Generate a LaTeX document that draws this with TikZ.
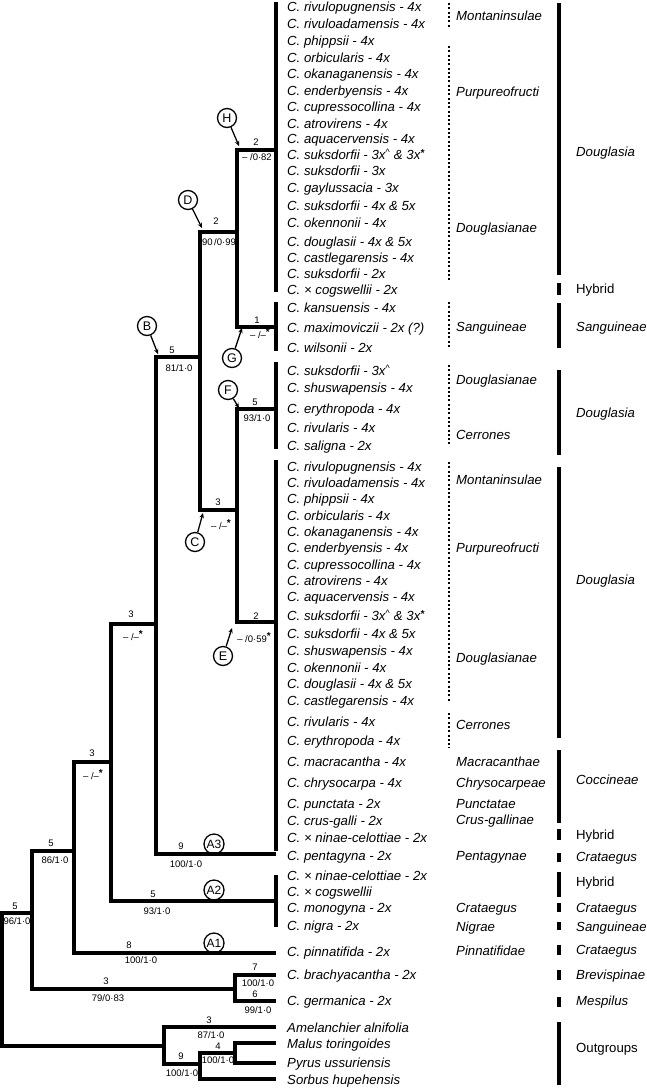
\documentclass[tikz,border=0pt]{standalone}
\usepackage{fontspec}
\setmainfont{Liberation Sans}
\usetikzlibrary{arrows.meta}
\newcommand\mycaret{\textsuperscript{\textasciicircum}}
\newcommand\mystar{\raisebox{3.2pt}{\fontsize{10}{10}\selectfont\bfseries *}}
\begin{document}
\begin{tikzpicture}[x=1pt,y=-1pt,
  br/.style={line width=3.2pt,line join=miter},
  gbar/.style={line width=4pt},
  dbar/.style={line width=1.8pt,dash pattern=on 2pt off 2.3pt},
  sp/.style={anchor=west,inner sep=0pt,text height=9.3pt,text depth=0pt,font=\fontsize{13.2}{13.2}\selectfont\itshape},
  rm/.style={anchor=west,inner sep=0pt,text height=9.3pt,text depth=0pt,font=\fontsize{13.2}{13.2}\selectfont},
  num/.style={inner sep=0pt,text height=6.8pt,text depth=0pt,font=\fontsize{9.5}{9.5}\selectfont},
  circ/.style={draw,circle,line width=1.3pt,minimum size=19pt,inner sep=0pt,font=\fontsize{12.5}{12.5}\selectfont},
  acirc/.style={draw,circle,line width=1.3pt,minimum size=20pt,inner sep=0pt,font=\fontsize{12}{12}\selectfont},
  arr/.style={line width=1.3pt,-{Stealth[length=5pt,width=4.4pt]}}
]
\useasboundingbox (0,0) rectangle (647,1088);

% ---------- tree nodes ----------
\coordinate (Rt) at (2,980);
\coordinate (n32) at (32,913);
\coordinate (n74) at (74,851);
\coordinate (n111) at (111,762);
\coordinate (n156) at (156,624);
\coordinate (nB) at (200,357);
\coordinate (nD) at (237,232);
\coordinate (nC) at (237,510);
\coordinate (nH) at (276,150);
\coordinate (nG) at (276,327);
\coordinate (nF) at (276,409);
\coordinate (nE) at (276,622);
\coordinate (tPen) at (276,854);
\coordinate (nA2) at (276,901);
\coordinate (tPin) at (276,953);
\coordinate (nMes) at (235,989);
\coordinate (tBra) at (276,975);
\coordinate (tGer) at (276,1001);
\coordinate (nOut) at (164,1046);
\coordinate (tAme) at (276,1027);
\coordinate (n200) at (200,1064);
\coordinate (n235) at (235,1053);
\coordinate (tMal) at (276,1043);
\coordinate (tPyr) at (276,1063);
\coordinate (tSor) at (276,1079);

\draw[br] (Rt) |- (n32);  \draw[br] (Rt) |- (nOut);
\draw[br] (n32) |- (n74); \draw[br] (n32) |- (nMes);
\draw[br] (n74) |- (n111); \draw[br] (n74) |- (tPin);
\draw[br] (n111) |- (n156); \draw[br] (n111) |- (nA2);
\draw[br] (n156) |- (nB); \draw[br] (n156) |- (tPen);
\draw[br] (nB) |- (nD); \draw[br] (nB) |- (nC);
\draw[br] (nD) |- (nH); \draw[br] (nD) |- (nG);
\draw[br] (nC) |- (nF); \draw[br] (nC) |- (nE);
\draw[br] (nMes) |- (tBra); \draw[br] (nMes) |- (tGer);
\draw[br] (nOut) |- (tAme); \draw[br] (nOut) |- (n200);
\draw[br] (n200) |- (n235); \draw[br] (n200) |- (tSor);
\draw[br] (n235) |- (tMal); \draw[br] (n235) |- (tPyr);

% tip bars
\draw[br] (276,2) -- (276,292);
\draw[br] (276,302) -- (276,351);
\draw[br] (276,362) -- (276,449);
\draw[br] (276,460) -- (276,851);
\draw[br] (276,875) -- (276,927);

% ---------- branch labels ----------
\node[num] (a1) at (15,906) {5};   \node[num] (b1) at (17,921) {96/1·0};
\node[num] (a2) at (51,843) {5};   \node[num] (b2) at (55,860) {86/1·0};
\node[num] (a3) at (92,753) {3};   \node[num] (b3) at (93,776) {– /–\mystar};
\node[num] (a4) at (131,614) {3};  \node[num] (b4) at (133,637) {– /–\mystar};
\node[num] (a5) at (172,350) {5};  \node[num] (b5) at (179,368) {81/1·0};
\node[num] (a6) at (216,221) {2};  \node[num] (b6) at (219,242) {90\,/0·99};
\node[num] (a7) at (256,142) {2};  \node[num] (b7) at (257,157) {– /0·82};
\node[num] (a8) at (257,320) {1};  \node[num] (b8) at (260,335) {– /–\mystar};
\node[num] (a9) at (218,502) {3};  \node[num] (b9) at (221,526) {– /–\mystar};
\node[num] (a10) at (255,402) {5}; \node[num] (b10) at (257,418) {93/1·0};
\node[num] (a11) at (256,616) {2}; \node[num] (b11) at (254,639) {– /0·59\mystar};
\node[num] (a12) at (181,846) {9}; \node[num] (b12) at (186,864) {100/1·0};
\node[num] (a13) at (153,894) {5}; \node[num] (b13) at (157,911) {93/1·0};
\node[num] (a14) at (129,945) {8}; \node[num] (b14) at (141,960) {100/1·0};
\node[num] (a15) at (106,981) {3}; \node[num] (b15) at (108,998) {79/0·83};
\node[num] (a16) at (255,967) {7}; \node[num] (b16) at (258,983) {100/1·0};
\node[num] (a17) at (255,994) {6}; \node[num] (b17) at (258,1010) {99/1·0};
\node[num] (a18) at (209,1020) {3}; \node[num] (b18) at (211,1035) {87/1·0};
\node[num] (a19) at (218,1046) {4}; \node[num] (b19) at (218,1060) {100/1·0};
\node[num] (a20) at (181,1056) {9}; \node[num] (b20) at (182,1073) {100/1·0};

% ---------- circled clade letters ----------
\node[circ] (H) at (227,118) {H};
\node[circ] (D) at (188,200) {D};
\node[circ] (G) at (232,358) {G};
\node[circ] (B) at (147,326) {B};
\node[circ] (F) at (228,390) {F};
\node[circ] (C) at (195,542) {C};
\node[circ] (E) at (223,656) {E};
\node[acirc] (A3) at (214,844) {A3};
\node[acirc] (A2) at (214,890) {A2};
\node[acirc] (A1) at (214,943) {A1};

\coordinate (pH) at (239,146);
\coordinate (pD) at (202,228);
\coordinate (pG) at (242,328);
\coordinate (pB) at (158,354);
\coordinate (pF) at (239,408);
\coordinate (pC) at (203,513);
\coordinate (pE) at (232,628);
\draw[arr] (H) -- (pH);
\draw[arr] (D) -- (pD);
\draw[arr] (G) -- (pG);
\draw[arr] (B) -- (pB);
\draw[arr] (F) -- (pF);
\draw[arr] (C) -- (pC);
\draw[arr] (E) -- (pE);

% ---------- species ----------
\foreach \yy/\lab [count=\i] in {
7/{C. rivulopugnensis - 4x},
24/{C. rivuloadamensis - 4x},
41/{C. phippsii - 4x},
58/{C. orbicularis - 4x},
74/{C. okanaganensis - 4x},
91/{C. enderbyensis - 4x},
107/{C. cupressocollina - 4x},
124/{C. atrovirens - 4x},
139/{C. aquacervensis - 4x},
155/{C. suksdorfii - 3x\mycaret{} \& 3x\mystar},
171/{C. suksdorfii - 3x},
188/{C. gaylussacia - 3x},
206/{C. suksdorfii - 4x \& 5x},
223/{C. okennonii - 4x},
242/{C. douglasii - 4x \& 5x},
258/{C. castlegarensis - 4x},
274/{C. suksdorfii - 2x},
290/{C. × cogswellii - 2x},
308/{C. kansuensis - 4x},
328/{C. maximoviczii - 2x (?)},
348/{C. wilsonii - 2x},
371/{C. suksdorfii - 3x\mycaret},
388/{C. shuswapensis - 4x},
409/{C. erythropoda - 4x},
428/{C. rivularis - 4x},
446/{C. saligna - 2x},
467/{C. rivulopugnensis - 4x},
483/{C. rivuloadamensis - 4x},
499/{C. phippsii - 4x},
516/{C. orbicularis - 4x},
532/{C. okanaganensis - 4x},
548/{C. enderbyensis - 4x},
565/{C. cupressocollina - 4x},
581/{C. atrovirens - 4x},
597/{C. aquacervensis - 4x},
616/{C. suksdorfii - 3x\mycaret{} \& 3x\mystar},
634/{C. suksdorfii - 4x \& 5x},
651/{C. shuswapensis - 4x},
668/{C. okennonii - 4x},
684/{C. douglasii - 4x \& 5x},
701/{C. castlegarensis - 4x},
722/{C. rivularis - 4x},
741/{C. erythropoda - 4x},
762/{C. macracantha - 4x},
783/{C. chrysocarpa - 4x},
804/{C. punctata - 2x},
821/{C. crus-galli - 2x},
838/{C. × ninae-celottiae - 2x},
856/{C. pentagyna - 2x},
876/{C. × ninae-celottiae - 2x},
892/{C. × cogswellii},
908/{C. monogyna - 2x},
926/{C. nigra - 2x},
952/{C. pinnatifida - 2x},
975/{C. brachyacantha - 2x},
1001/{C. germanica - 2x},
1028/{Amelanchier alnifolia},
1044/{Malus toringoides},
1063/{Pyrus ussuriensis},
1080/{Sorbus hupehensis}}
  \node[sp] (sp\i) at (287,\yy) {\lab};

% ---------- sections (dotted) ----------
\draw[dbar] (449,3) -- (449,27);
\draw[dbar] (449,46) -- (449,282);
\draw[dbar] (449,302) -- (449,348);
\draw[dbar] (449,365) -- (449,446);
\draw[dbar] (449,462) -- (449,702);
\draw[dbar] (449,713) -- (449,748);

\foreach \yy/\lab [count=\i] in {
16/Montaninsulae, 92/Purpureofructi, 228/Douglasianae, 327/Sanguineae,
380/Douglasianae, 435/Cerrones, 480/Montaninsulae, 548/Purpureofructi,
658/Douglasianae, 725/Cerrones, 762/Macracanthae, 783/Chrysocarpeae,
804/Punctatae, 820/Crus-gallinae, 856/Pentagynae, 908/Crataegus,
927/Nigrae, 951/Pinnatifidae}
  \node[sp] (sec\i) at (456,\yy) {\lab};

% ---------- genera (solid) ----------
\foreach \ya/\yb in {3/275, 283/295, 303/348, 370/455, 467/738, 750/823,
  829/840, 853/862, 872/897, 903/912, 922/930, 945/955, 970/980, 997/1007, 1022/1085}
  \draw[gbar] (559,\ya) -- (559,\yb);

\node[sp] (g1) at (576,152) {Douglasia};
\node[rm] (g2) at (576,289) {Hybrid};
\node[sp] (g3) at (576,327) {Sanguineae};
\node[sp] (g4) at (576,413) {Douglasia};
\node[sp] (g5) at (576,580) {Douglasia};
\node[sp] (g6) at (576,780) {Coccineae};
\node[rm] (g7) at (576,835) {Hybrid};
\node[sp] (g8) at (576,857) {Crataegus};
\node[rm] (g9) at (576,882) {Hybrid};
\node[sp] (g10) at (576,908) {Crataegus};
\node[sp] (g11) at (576,927) {Sanguineae};
\node[sp] (g12) at (576,950) {Crataegus};
\node[sp] (g13) at (576,975) {Brevispinae};
\node[sp] (g14) at (576,1001) {Mespilus};
\node[rm] (g15) at (576,1048) {Outgroups};
\end{tikzpicture}
\end{document}
